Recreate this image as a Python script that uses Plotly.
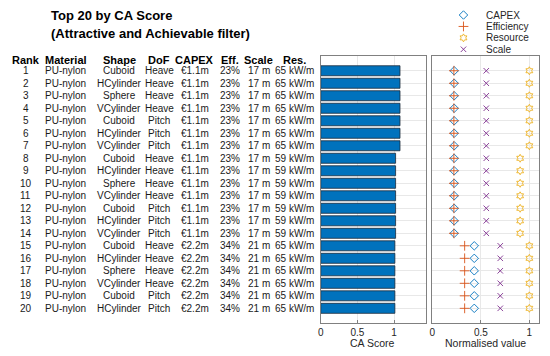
import plotly.graph_objects as go

# ---------------- data ----------------
ranks = list(range(1, 21))
materials = ["PU-nylon"] * 20
shapes = ["Cuboid", "HCylinder", "Sphere", "VCylinder", "Cuboid", "HCylinder", "VCylinder",
          "Cuboid", "HCylinder", "Sphere", "VCylinder", "Cuboid", "HCylinder", "VCylinder",
          "Cuboid", "HCylinder", "Sphere", "VCylinder", "Cuboid", "HCylinder"]
dofs = ["Heave", "Heave", "Heave", "Heave", "Pitch", "Pitch", "Pitch",
        "Heave", "Heave", "Heave", "Heave", "Pitch", "Pitch", "Pitch",
        "Heave", "Heave", "Heave", "Heave", "Pitch", "Pitch"]
capex_labels = ["€1.1m"] * 14 + ["€2.2m"] * 6
eff_labels = ["23%"] * 14 + ["34%"] * 6
scale_labels = ["17 m"] * 14 + ["21 m"] * 6
res_labels = ["65 kW/m"] * 7 + ["59 kW/m"] * 7 + ["65 kW/m"] * 6

ca_score = [1.08] * 7 + [1.02] * 7 + [1.01] * 6
capex_norm = [0.225] * 14 + [0.432] * 6
eff_norm = [0.222] * 14 + [0.333] * 6
resource_norm = [1.0] * 7 + [0.905] * 7 + [1.0] * 6
scale_norm = [0.556] * 14 + [0.70] * 6

headers = ["Rank", "Material", "Shape", "DoF", "CAPEX", "Eff.", "Scale", "Res."]
columns = [[str(r) for r in ranks], materials, shapes, dofs, capex_labels, eff_labels, scale_labels, res_labels]
col_x_px = [23, 63, 117, 157, 193, 228, 257, 293]

series_names = ["CAPEX", "Efficiency", "Resource", "Scale"]
series_vals = [capex_norm, eff_norm, resource_norm, scale_norm]
series_colors = ["#0072BD", "#D95319", "#EDB120", "#7E2F8E"]
series_symbols = ["diamond-open", "cross-thin-open", "hexagram-open", "x-thin-open"]
series_sizes = [6.5, 7, 6, 5.5]

# ---------------- layout helpers ----------------
W, H = 550, 356
FONT = "Liberation Sans, Arial, Helvetica, sans-serif"


def px_x(p):
    return p / W


def px_y(p):
    return 1 - p / H


fig = go.Figure()

# bars
fig.add_trace(go.Bar(
    x=ca_score, y=ranks, orientation="h", xaxis="x", yaxis="y",
    marker=dict(color="#0072BD", line=dict(color="#1a2a3a", width=0.8)),
    width=0.8, showlegend=False, hoverinfo="x+y"
))

# scatter markers
for name, vals, col, sym, sz in zip(series_names, series_vals, series_colors, series_symbols, series_sizes):
    fig.add_trace(go.Scatter(
        x=vals, y=ranks, mode="markers", name=name, xaxis="x2", yaxis="y2",
        marker=dict(symbol=sym, size=sz, color=col, line=dict(color=col, width=0.9)),
        showlegend=False, cliponaxis=False
    ))

# manual legend (tight spacing like the original)
for i, (name, col, sym, sz) in enumerate(zip(series_names, series_colors, series_symbols, series_sizes)):
    fig.add_trace(go.Scatter(
        x=[0], y=[i], mode="markers", xaxis="x3", yaxis="y3",
        marker=dict(symbol=sym, size=sz, color=col, line=dict(color=col, width=0.9)),
        showlegend=False, hoverinfo="skip", cliponaxis=False
    ))

annotations = []
for i, name in enumerate(series_names):
    annotations.append(dict(x=2.6, y=i, xref="x3", yref="y3", text=name, showarrow=False,
                            xanchor="left", yanchor="middle",
                            font=dict(family=FONT, size=10, color="#262626")))

# title
annotations.append(dict(x=px_x(46), y=px_y(15), xref="paper", yref="paper",
                        text="<b>Top 20 by CA Score</b>", showarrow=False,
                        xanchor="left", yanchor="middle", font=dict(family=FONT, size=13, color="#000")))
annotations.append(dict(x=px_x(46), y=px_y(33), xref="paper", yref="paper",
                        text="<b>(Attractive and Achievable filter)</b>", showarrow=False,
                        xanchor="left", yanchor="middle", font=dict(family=FONT, size=13, color="#000")))

# table headers
for h, cx in zip(headers, col_x_px):
    annotations.append(dict(x=px_x(cx), y=px_y(60), xref="paper", yref="paper", text="<b>%s</b>" % h,
                            showarrow=False, xanchor="center", yanchor="middle",
                            font=dict(family=FONT, size=11, color="#000")))
# table body
for col, cx in zip(columns, col_x_px):
    for r, txt in zip(ranks, col):
        annotations.append(dict(x=px_x(cx), y=r, xref="paper", yref="y", text=txt,
                                showarrow=False, xanchor="center", yanchor="middle",
                                font=dict(family=FONT, size=10, color="#1a1a1a")))

# axis titles
annotations.append(dict(x=px_x(372), y=px_y(343), xref="paper", yref="paper", text="CA Score",
                        showarrow=False, xanchor="center", yanchor="middle",
                        font=dict(family=FONT, size=10.5, color="#262626")))
annotations.append(dict(x=px_x(485), y=px_y(343), xref="paper", yref="paper", text="Normalised value",
                        showarrow=False, xanchor="center", yanchor="middle",
                        font=dict(family=FONT, size=10.5, color="#262626")))

y_top, y_bot = 56, 322.7
yrange = [21.15, -0.18]
frame = dict(showline=True, mirror=True, linecolor="#808080", linewidth=1)
grid = dict(showgrid=True, gridcolor="#e8e8e8", gridwidth=1, zeroline=False)

fig.update_layout(
    width=W, height=H, margin=dict(l=0, r=0, t=0, b=0),
    paper_bgcolor="white", plot_bgcolor="white",
    font=dict(family=FONT, size=10, color="#262626"),
    bargap=0.2,
    xaxis=dict(domain=[px_x(319.5), px_x(425)], range=[0, 1.43], tickvals=[0, 0.5, 1],
               ticktext=["0", "0.5", "1"], ticks="inside", ticklen=3, tickcolor="#808080",
               tickfont=dict(size=10, color="#262626"), **frame, **grid),
    yaxis=dict(domain=[px_y(y_bot), px_y(y_top)], range=yrange, tickvals=ranks,
               showticklabels=False, ticks="", **frame, **grid),
    xaxis2=dict(domain=[px_x(431.7), px_x(539)], range=[0, 1.1], tickvals=[0, 0.5, 1],
                ticktext=["0", "0.5", "1"], ticks="inside", ticklen=3, tickcolor="#808080",
                tickfont=dict(size=10, color="#262626"), anchor="y2", **frame, **grid),
    yaxis2=dict(domain=[px_y(y_bot), px_y(y_top)], range=yrange, tickvals=ranks,
                showticklabels=False, ticks="", anchor="x2", **frame, **grid),
    xaxis3=dict(domain=[px_x(455), px_x(545)], range=[-1, 10.25], visible=False, anchor="y3",
                fixedrange=True),
    yaxis3=dict(domain=[px_y(55), px_y(9.3)], range=[3.5, -0.5], visible=False, anchor="x3",
                fixedrange=True),
    annotations=annotations,
)

fig.write_html("out.html", config={"displayModeBar": False},
               post_script="document.body.style.margin='0';document.body.style.padding='0';")
